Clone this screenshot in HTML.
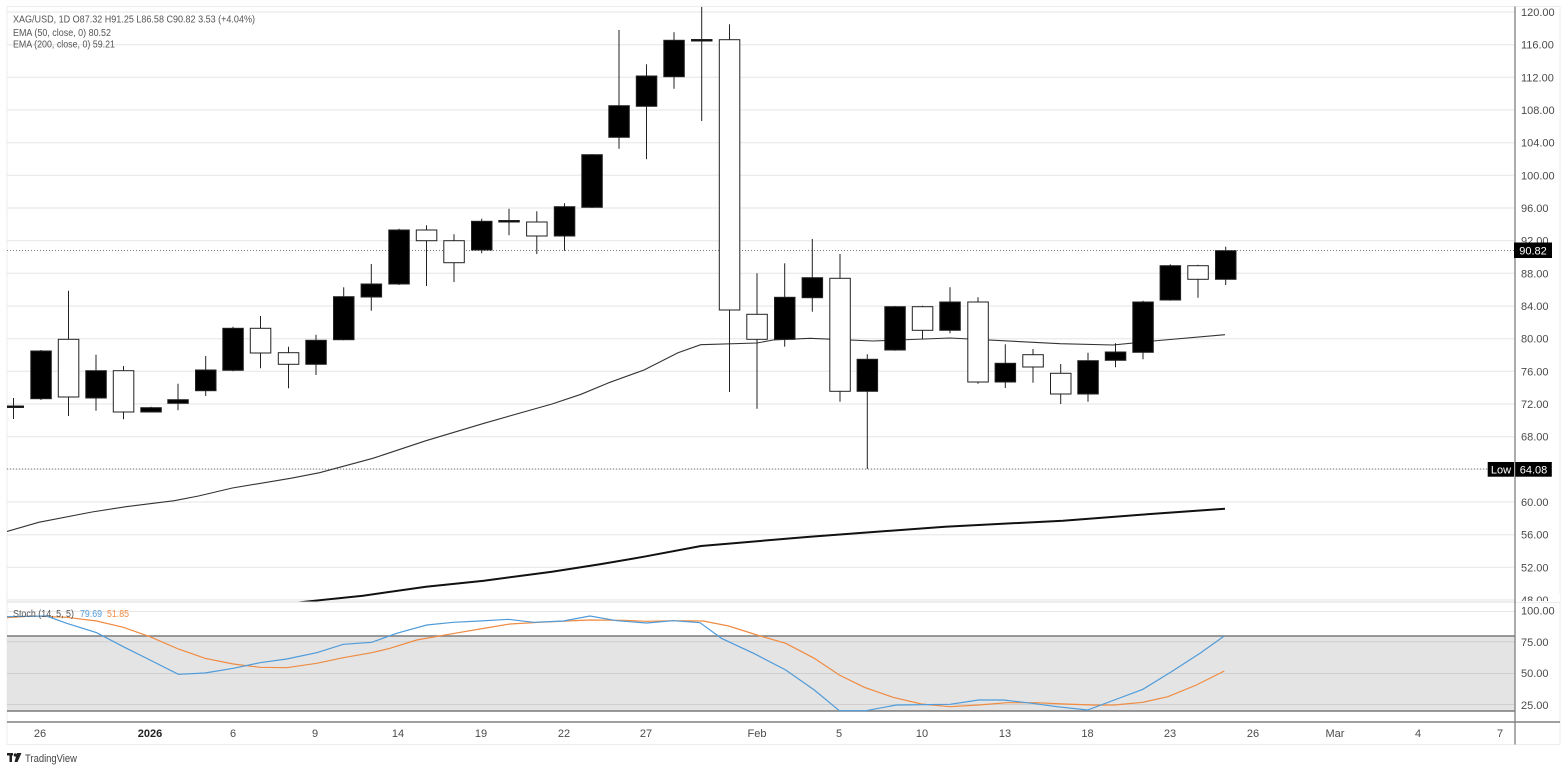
<!DOCTYPE html>
<html><head><meta charset="utf-8"><style>
html,body{margin:0;padding:0;background:#fff;}
svg{display:block;}
text{font-family:"Liberation Sans",sans-serif;}
</style></head><body>
<svg width="1568" height="771" viewBox="0 0 1568 771" xmlns="http://www.w3.org/2000/svg">
<rect x="0" y="0" width="1568" height="771" fill="#fff"/>
<rect x="7" y="6.5" width="1553" height="738" fill="#fff" stroke="#ececec" stroke-width="1"/>
<defs>
<clipPath id="pp"><rect x="7" y="7" width="1508" height="594.5"/></clipPath>
<clipPath id="sp"><rect x="7" y="603" width="1508" height="118"/></clipPath>
</defs>
<!-- price grid -->
<g stroke="#e6e6e6" stroke-width="1">
<line x1="7" x2="1515" y1="12" y2="12"/><line x1="7" x2="1515" y1="44.7" y2="44.7"/><line x1="7" x2="1515" y1="77.3" y2="77.3"/><line x1="7" x2="1515" y1="110" y2="110"/><line x1="7" x2="1515" y1="142.7" y2="142.7"/><line x1="7" x2="1515" y1="175.3" y2="175.3"/><line x1="7" x2="1515" y1="208" y2="208"/><line x1="7" x2="1515" y1="240.7" y2="240.7"/><line x1="7" x2="1515" y1="273.3" y2="273.3"/><line x1="7" x2="1515" y1="306" y2="306"/><line x1="7" x2="1515" y1="338.7" y2="338.7"/><line x1="7" x2="1515" y1="371.3" y2="371.3"/><line x1="7" x2="1515" y1="404" y2="404"/><line x1="7" x2="1515" y1="436.7" y2="436.7"/><line x1="7" x2="1515" y1="469.3" y2="469.3"/><line x1="7" x2="1515" y1="502" y2="502"/><line x1="7" x2="1515" y1="534.7" y2="534.7"/><line x1="7" x2="1515" y1="567.3" y2="567.3"/><line x1="7" x2="1515" y1="600" y2="600"/>
</g>
<line x1="7" x2="1560" y1="602" y2="602" stroke="#dcdcdc" stroke-width="1"/>
<!-- dotted lines -->
<line x1="7" x2="1515" y1="250.5" y2="250.5" stroke="#777" stroke-width="1" stroke-dasharray="1,2"/>
<line x1="7" x2="1515" y1="469" y2="469" stroke="#777" stroke-width="1" stroke-dasharray="1,2"/>
<g clip-path="url(#pp)">
<!-- EMA 200 -->
<polyline fill="none" stroke="#111" stroke-width="2" points="280,604.5 314.8,600.7 363,595.7 426,586.7 484,580.7 552,571.7 600,564.3 644,556.7 701,546 810,536.7 945,526.7 1063,520.7 1147,514.3 1225,508.7"/>
<!-- EMA 50 -->
<polyline fill="none" stroke="#333" stroke-width="1.1" points="7,531.5 38.7,522.3 92,512 126,506.7 174.3,500.7 198.5,496 232.4,488 290.6,478.3 319.6,472.7 372.9,458.3 426,440.7 484,423.3 552,404 581,394.3 610,382.3 644,370 678,352.7 700.7,344.7 757,343 773,340 810,338.3 873,341 950,338 1060,343.7 1113,345 1153,341 1225,334.7"/>
<!-- candles -->
<g stroke="#222" stroke-width="1">
<line x1="13.5" x2="13.5" y1="398" y2="419"/><rect x="3" y="406" width="20.5" height="1.5" fill="#000"/>
<line x1="41" x2="41" y1="350" y2="400"/><rect x="30.8" y="351" width="20.5" height="47.7" fill="#000"/>
<line x1="68.5" x2="68.5" y1="290.7" y2="416"/><rect x="58.3" y="339.3" width="20.5" height="57.7" fill="#fff"/>
<line x1="96" x2="96" y1="354.7" y2="410.7"/><rect x="85.8" y="370.7" width="20.5" height="27.3" fill="#000"/>
<line x1="123.5" x2="123.5" y1="366" y2="419.3"/><rect x="113.3" y="370.7" width="20.5" height="41.3" fill="#fff"/>
<line x1="151" x2="151" y1="406.7" y2="412"/><rect x="140.8" y="407.7" width="20.5" height="4.3" fill="#000"/>
<line x1="178" x2="178" y1="383.7" y2="410.3"/><rect x="167.8" y="399.7" width="20.5" height="3.6" fill="#000"/>
<line x1="205.7" x2="205.7" y1="356" y2="396"/><rect x="195.5" y="370" width="20.5" height="20.7" fill="#000"/>
<line x1="233" x2="233" y1="326.7" y2="371.3"/><rect x="222.8" y="328.3" width="20.5" height="42" fill="#000"/>
<line x1="260.5" x2="260.5" y1="316" y2="368.3"/><rect x="250.3" y="328.3" width="20.5" height="24.7" fill="#fff"/>
<line x1="288.5" x2="288.5" y1="346.7" y2="388.3"/><rect x="278.3" y="352.7" width="20.5" height="11.6" fill="#fff"/>
<line x1="316" x2="316" y1="334.7" y2="375"/><rect x="305.8" y="340.3" width="20.5" height="24" fill="#000"/>
<line x1="343.7" x2="343.7" y1="287.3" y2="340.3"/><rect x="333.5" y="296.7" width="20.5" height="43" fill="#000"/>
<line x1="371.3" x2="371.3" y1="264" y2="310.7"/><rect x="361.1" y="284" width="20.5" height="13" fill="#000"/>
<line x1="399" x2="399" y1="228.7" y2="285"/><rect x="388.8" y="230" width="20.5" height="54" fill="#000"/>
<line x1="426.5" x2="426.5" y1="225.3" y2="286"/><rect x="416.3" y="230" width="20.5" height="10.7" fill="#fff"/>
<line x1="454" x2="454" y1="234.3" y2="282"/><rect x="443.8" y="240.7" width="20.5" height="22" fill="#fff"/>
<line x1="481.7" x2="481.7" y1="218.7" y2="253.3"/><rect x="471.5" y="221.3" width="20.5" height="28.7" fill="#000"/>
<line x1="509" x2="509" y1="208.7" y2="235.3"/><rect x="498.8" y="220.5" width="20.5" height="1.5" fill="#000"/>
<line x1="536.8" x2="536.8" y1="211.3" y2="254"/><rect x="526.6" y="222" width="20.5" height="14" fill="#fff"/>
<line x1="564.5" x2="564.5" y1="203.3" y2="250.7"/><rect x="554.3" y="206.7" width="20.5" height="29.3" fill="#000"/>
<line x1="592" x2="592" y1="154" y2="208"/><rect x="581.8" y="154.7" width="20.5" height="52.6" fill="#000"/>
<line x1="619" x2="619" y1="30" y2="148.7"/><rect x="608.8" y="105.7" width="20.5" height="31.6" fill="#000"/>
<line x1="646.5" x2="646.5" y1="64.3" y2="159.3"/><rect x="636.3" y="76" width="20.5" height="30.3" fill="#000"/>
<line x1="674" x2="674" y1="32.3" y2="88.7"/><rect x="663.8" y="40.3" width="20.5" height="36.4" fill="#000"/>
<line x1="701.7" x2="701.7" y1="7" y2="121"/><rect x="691.5" y="39.5" width="20.5" height="1.5" fill="#000"/>
<line x1="729.5" x2="729.5" y1="24.3" y2="392"/><rect x="719.3" y="39.7" width="20.5" height="270.3" fill="#fff"/>
<line x1="757" x2="757" y1="273.3" y2="408.7"/><rect x="746.8" y="314.3" width="20.5" height="25" fill="#fff"/>
<line x1="784.7" x2="784.7" y1="263.3" y2="346.7"/><rect x="774.5" y="297.3" width="20.5" height="42" fill="#000"/>
<line x1="812.3" x2="812.3" y1="239" y2="311.7"/><rect x="802.1" y="277.7" width="20.5" height="20" fill="#000"/>
<line x1="840" x2="840" y1="254" y2="401.7"/><rect x="829.8" y="278.3" width="20.5" height="113" fill="#fff"/>
<line x1="867.3" x2="867.3" y1="354.3" y2="469"/><rect x="857.1" y="359.3" width="20.5" height="32" fill="#000"/>
<line x1="895" x2="895" y1="306" y2="350.7"/><rect x="884.8" y="306.7" width="20.5" height="43.3" fill="#000"/>
<line x1="922.5" x2="922.5" y1="305.7" y2="339.3"/><rect x="912.3" y="306.7" width="20.5" height="23.6" fill="#fff"/>
<line x1="950" x2="950" y1="287.3" y2="333.3"/><rect x="939.8" y="302" width="20.5" height="28.3" fill="#000"/>
<line x1="978" x2="978" y1="297.3" y2="383.7"/><rect x="967.8" y="302" width="20.5" height="80" fill="#fff"/>
<line x1="1005.3" x2="1005.3" y1="344.3" y2="388"/><rect x="995.1" y="363.3" width="20.5" height="18.7" fill="#000"/>
<line x1="1033" x2="1033" y1="349" y2="382.7"/><rect x="1022.8" y="354.7" width="20.5" height="12.3" fill="#fff"/>
<line x1="1060.7" x2="1060.7" y1="364" y2="404"/><rect x="1050.5" y="373.3" width="20.5" height="20.7" fill="#fff"/>
<line x1="1088" x2="1088" y1="352.7" y2="401.7"/><rect x="1077.8" y="360.7" width="20.5" height="33.3" fill="#000"/>
<line x1="1115.5" x2="1115.5" y1="343.3" y2="367.3"/><rect x="1105.3" y="352" width="20.5" height="8.3" fill="#000"/>
<line x1="1143" x2="1143" y1="300.7" y2="359.3"/><rect x="1132.8" y="302" width="20.5" height="50.3" fill="#000"/>
<line x1="1170.3" x2="1170.3" y1="264.3" y2="300.7"/><rect x="1160.1" y="265.7" width="20.5" height="34.3" fill="#000"/>
<line x1="1198" x2="1198" y1="264.7" y2="297.7"/><rect x="1187.8" y="265.7" width="20.5" height="13.6" fill="#fff"/>
<line x1="1225.7" x2="1225.7" y1="246.7" y2="285"/><rect x="1215.5" y="250.7" width="20.5" height="28.6" fill="#000"/>
</g>
</g>
<!-- legend -->
<g fill="#555" font-size="10">
<text x="13" y="22.5" textLength="242" lengthAdjust="spacingAndGlyphs">XAG/USD, 1D  O87.32  H91.25  L86.58  C90.82  3.53 (+4.04%)</text>
<text x="13" y="36" textLength="98" lengthAdjust="spacingAndGlyphs">EMA (50, close, 0)  80.52</text>
<text x="13" y="47.5" textLength="102" lengthAdjust="spacingAndGlyphs">EMA (200, close, 0)  59.21</text>
</g>
<!-- stochastic pane -->
<line x1="7" x2="1515" y1="611.5" y2="611.5" stroke="#e6e6e6"/>
<rect x="7" y="636" width="1508" height="75" fill="#e4e4e4"/>
<g stroke="#cfcfcf" stroke-width="1">
<line x1="7" x2="1515" y1="641.8" y2="641.8"/>
<line x1="7" x2="1515" y1="673.5" y2="673.5"/>
<line x1="7" x2="1515" y1="704.5" y2="704.5"/>
</g>
<line x1="7" x2="1515" y1="636" y2="636" stroke="#7a7a7a" stroke-width="1.6"/>
<line x1="7" x2="1515" y1="711" y2="711" stroke="#7a7a7a" stroke-width="1.6"/>
<g clip-path="url(#sp)" fill="none" stroke-width="1.2">
<polyline stroke="#ef8b42" points="7,617.7 33,616 66.7,617.3 96.7,621 123.3,627.3 150,636.7 178.3,649 205,658.3 233.3,664 260,667.3 286.7,667.7 316.7,663.3 343.3,657.7 371.7,652.7 390,648.3 416.7,640 446.7,634.7 480,629 510,624 540,622.3 566.7,621 590,620 623.3,620.3 646.7,621.3 673.3,620.7 703.3,621 728.6,626 757,635 785.7,643.3 814.3,658.3 839.3,675 864.3,687.3 893,697.3 921.4,704 950,706.7 978.6,705 1007,702.7 1035.7,702.7 1064.3,704 1092.9,705 1114.3,705 1142.9,702.3 1167.9,696.7 1196.4,685 1224.3,671"/>
<polyline stroke="#4f9bd9" points="7,616.7 46.7,616 66.7,623.3 96.7,632.7 123.3,646.7 150,660 178.3,674.3 205,673 233.3,668.3 260,662.7 286.7,659 316.7,652.7 343.3,644.3 371.7,642.3 396.7,633.3 426.7,625 453.3,622.3 480,621 508.3,619.3 533.3,622.3 563.3,621 590,616 616.7,620.7 646.7,623 673.3,620.7 700,622.7 721.4,638.3 753.6,653.3 785.7,670 814.3,690 839.3,710.7 866,710.7 896.4,705 950,704.3 978.6,700 1003.6,700 1032,703.3 1057,706.7 1087.5,710 1114.3,700 1142.9,689.3 1171.4,671.7 1200,653.3 1224.3,636"/>
</g>
<g font-size="10">
<text x="13" y="617" fill="#555" textLength="61" lengthAdjust="spacingAndGlyphs">Stoch (14, 5, 5)</text>
<text x="80" y="617" fill="#4f9bd9" textLength="22" lengthAdjust="spacingAndGlyphs">79.69</text>
<text x="107" y="617" fill="#ef8b42" textLength="22" lengthAdjust="spacingAndGlyphs">51.85</text>
</g>
<!-- time axis -->
<line x1="7" x2="1560" y1="722" y2="722" stroke="#808080" stroke-width="1.4"/>
<line x1="1515" x2="1515" y1="6.5" y2="744.5" stroke="#808080" stroke-width="1.3"/>
<g font-size="11" fill="#4a4a4a" text-anchor="middle">
<text x="40" y="737">26</text>
<text x="150" y="737" font-weight="bold" fill="#222">2026</text>
<text x="233" y="737">6</text>
<text x="315" y="737">9</text>
<text x="398" y="737">14</text>
<text x="481" y="737">19</text>
<text x="564" y="737">22</text>
<text x="646" y="737">27</text>
<text x="757" y="737">Feb</text>
<text x="839" y="737">5</text>
<text x="922" y="737">10</text>
<text x="1005" y="737">13</text>
<text x="1087.5" y="737">18</text>
<text x="1170" y="737">23</text>
<text x="1253" y="737">26</text>
<text x="1335" y="737">Mar</text>
<text x="1418" y="737">4</text>
<text x="1500" y="737">7</text>
</g>
<!-- price axis labels -->
<g font-size="11" fill="#4a4a4a">
<text x="1521" y="16">120.00</text>
<text x="1521" y="48.7">116.00</text>
<text x="1521" y="81.3">112.00</text>
<text x="1521" y="114">108.00</text>
<text x="1521" y="146.7">104.00</text>
<text x="1521" y="179.3">100.00</text>
<text x="1521" y="212">96.00</text>
<text x="1521" y="244.7">92.00</text>
<text x="1521" y="277.3">88.00</text>
<text x="1521" y="310">84.00</text>
<text x="1521" y="342.7">80.00</text>
<text x="1521" y="375.3">76.00</text>
<text x="1521" y="408">72.00</text>
<text x="1521" y="440.7">68.00</text>
<text x="1521" y="506">60.00</text>
<text x="1521" y="538.7">56.00</text>
<text x="1521" y="571.3">52.00</text>
</g>
<rect x="1516" y="594" width="44" height="8" fill="#fff"/>
<g font-size="11" fill="#4a4a4a">
<text x="1521" y="614.5">100.00</text>
<text x="1521" y="646.2">75.00</text>
<text x="1521" y="677.2">50.00</text>
<text x="1521" y="709">25.00</text>
</g>
<clipPath id="c48"><rect x="1516" y="590" width="44" height="11"/></clipPath>
<text x="1521" y="604" font-size="11" fill="#4a4a4a" clip-path="url(#c48)">48.00</text>
<!-- price badges -->
<rect x="1514" y="242.5" width="38" height="15.5" fill="#000"/>
<text x="1533" y="254.3" font-size="11" fill="#fff" text-anchor="middle">90.82</text>
<rect x="1487.7" y="462" width="26.3" height="14.7" fill="#000"/>
<text x="1501" y="473.3" font-size="11" fill="#fff" text-anchor="middle">Low</text>
<rect x="1515.3" y="462" width="36.5" height="14.7" fill="#000"/>
<text x="1533.5" y="473.3" font-size="11" fill="#fff" text-anchor="middle">64.08</text>
<!-- TradingView logo -->
<g fill="#222">
<rect x="7" y="753" width="6" height="2.5"/>
<rect x="9.5" y="753" width="2.5" height="9"/>
<circle cx="15.3" cy="755" r="1.6"/>
<polygon points="17,753 21.5,753 17.5,762 14.5,762"/>
</g>
<text x="25" y="762" font-size="11" fill="#444" textLength="52" lengthAdjust="spacingAndGlyphs">TradingView</text>
</svg>
</body></html>
